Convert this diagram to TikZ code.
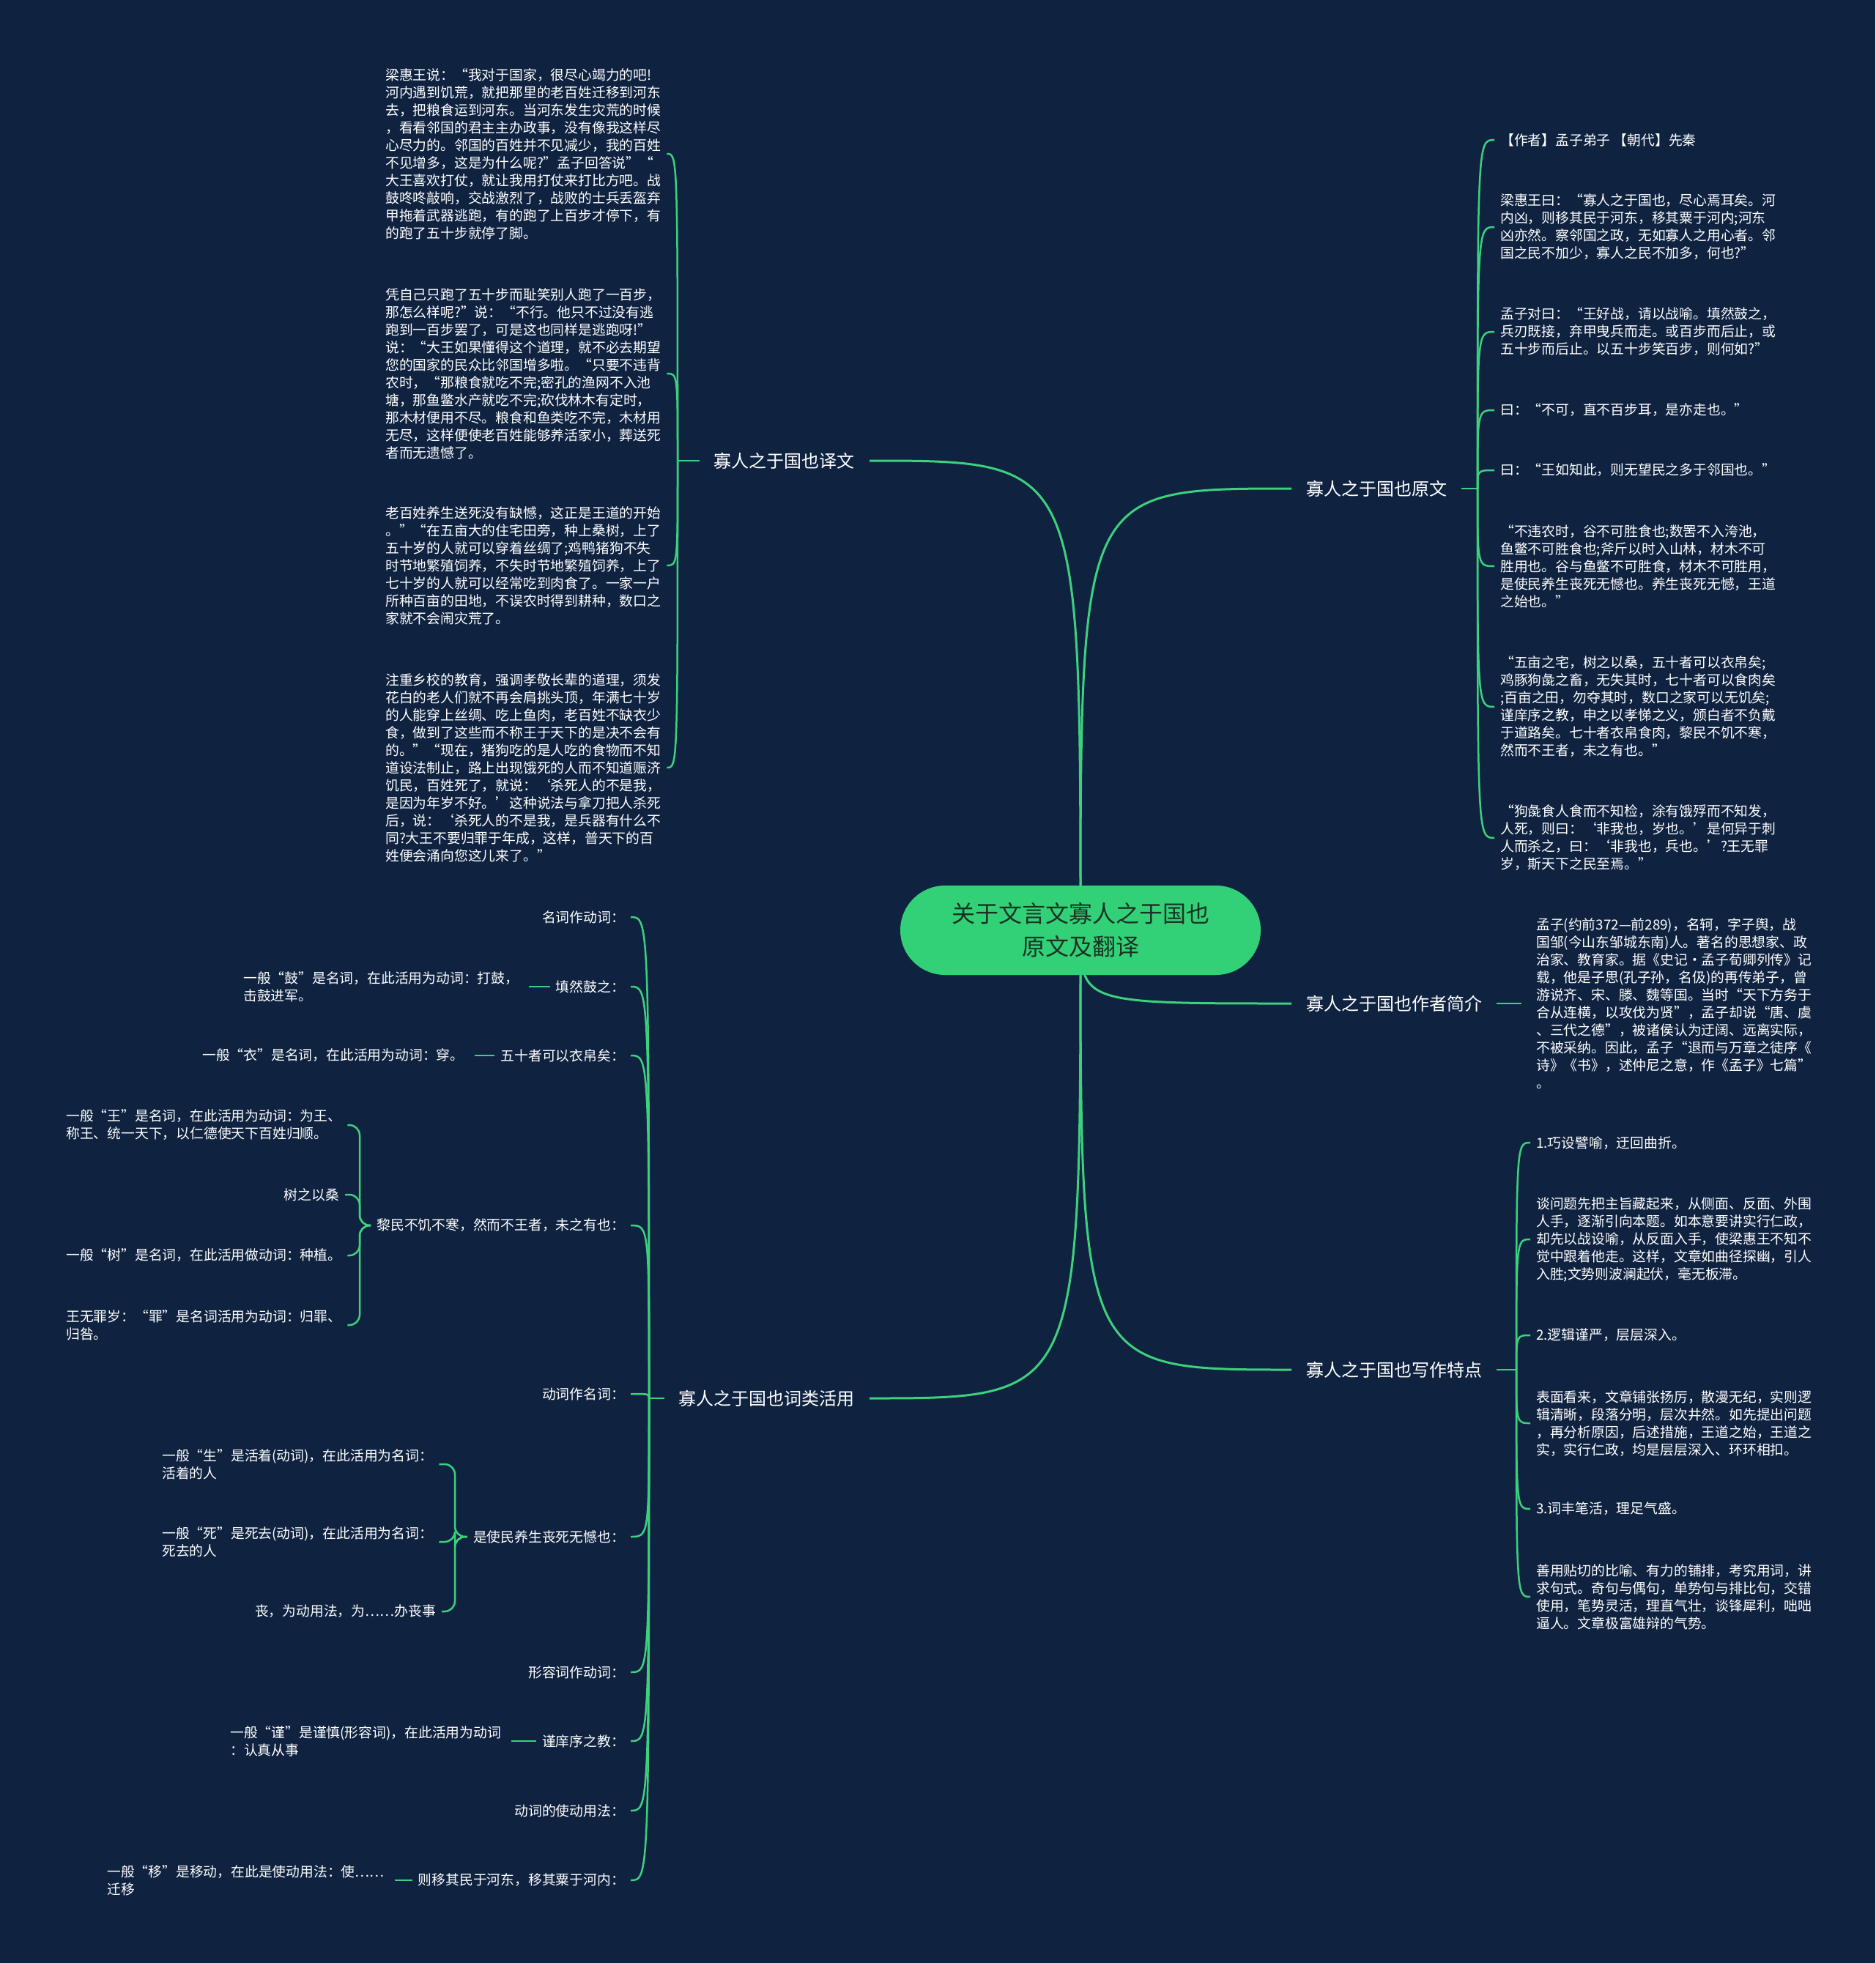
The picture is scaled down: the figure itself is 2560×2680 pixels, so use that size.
\documentclass[tikz,border=0pt]{standalone}
\usepackage{fontspec}
\setmainfont{Noto Sans CJK SC}
\definecolor{bg}{HTML}{0F2341}
\definecolor{lc}{HTML}{3DD17D}
\definecolor{nodefill}{HTML}{33D177}
\definecolor{nodetext}{HTML}{1B3223}
\begin{document}
\begin{tikzpicture}[x=1pt,y=-1pt,
  txt/.style={text=white,font=\fontsize{18.8}{24}\selectfont,align=left,inner xsep=8pt,inner ysep=2pt},
  lbl/.style={text=white,font=\fontsize{24}{30}\selectfont,inner xsep=20pt,inner ysep=4pt},
  trunk/.style={draw=lc,line width=3pt},
  twig/.style={draw=lc,line width=2.5pt},
  dashline/.style={draw=lc,line width=2.5pt,shorten >=6pt},
  brace/.style={draw=lc,line width=2.5pt,rounded corners=14pt}
]
\fill[bg] (0,0) rectangle (2560,2680);
\useasboundingbox (0,0) rectangle (2560,2680);

\coordinate (c) at (1475,1270);

% ---------- main labels ----------
\node[lbl,anchor=east] (yw) at (1187,629) {寡人之于国也译文};
\node[lbl,anchor=west] (yuan) at (1763,667) {寡人之于国也原文};
\node[lbl,anchor=west] (zz) at (1763,1370) {寡人之于国也作者简介};
\node[lbl,anchor=west] (xz) at (1763,1870) {寡人之于国也写作特点};
\node[lbl,anchor=east] (cl) at (1187,1909) {寡人之于国也词类活用};

\draw[trunk] (c) .. controls (1475,629) .. (yw.east);
\draw[trunk] (c) .. controls (1475,667) .. (yuan.west);
\draw[trunk] (c) .. controls (1475,1370) .. (zz.west);
\draw[trunk] (c) .. controls (1475,1870) .. (xz.west);
\draw[trunk] (c) .. controls (1475,1909) .. (cl.east);

% ---------- 译文 ----------
\node[txt,anchor=west] (p1) at (518,210) {梁惠王说：“我对于国家，很尽心竭力的吧!\\河内遇到饥荒，就把那里的老百姓迁移到河东\\去，把粮食运到河东。当河东发生灾荒的时候\\，看看邻国的君主主办政事，没有像我这样尽\\心尽力的。邻国的百姓并不见减少，我的百姓\\不见增多，这是为什么呢?”孟子回答说”“\\大王喜欢打仗，就让我用打仗来打比方吧。战\\鼓咚咚敲响，交战激烈了，战败的士兵丢盔弃\\甲拖着武器逃跑，有的跑了上百步才停下，有\\的跑了五十步就停了脚。};
\node[txt,anchor=west] (p2) at (518,510) {凭自己只跑了五十步而耻笑别人跑了一百步，\\那怎么样呢?”说：“不行。他只不过没有逃\\跑到一百步罢了，可是这也同样是逃跑呀!”\\说：“大王如果懂得这个道理，就不必去期望\\您的国家的民众比邻国增多啦。“只要不违背\\农时，“那粮食就吃不完;密孔的渔网不入池\\塘，那鱼鳖水产就吃不完;砍伐林木有定时，\\那木材便用不尽。粮食和鱼类吃不完，木材用\\无尽，这样便使老百姓能够养活家小，葬送死\\者而无遗憾了。};
\node[txt,anchor=west] (p3) at (518,772) {老百姓养生送死没有缺憾，这正是王道的开始\\。”“在五亩大的住宅田旁，种上桑树，上了\\五十岁的人就可以穿着丝绸了;鸡鸭猪狗不失\\时节地繁殖饲养，不失时节地繁殖饲养，上了\\七十岁的人就可以经常吃到肉食了。一家一户\\所种百亩的田地，不误农时得到耕种，数口之\\家就不会闹灾荒了。};
\node[txt,anchor=west] (p4) at (518,1048) {注重乡校的教育，强调孝敬长辈的道理，须发\\花白的老人们就不再会肩挑头顶，年满七十岁\\的人能穿上丝绸、吃上鱼肉，老百姓不缺衣少\\食，做到了这些而不称王于天下的是决不会有\\的。”“现在，猪狗吃的是人吃的食物而不知\\道设法制止，路上出现饿死的人而不知道赈济\\饥民，百姓死了，就说：‘杀死人的不是我，\\是因为年岁不好。’这种说法与拿刀把人杀死\\后，说：‘杀死人的不是我，是兵器有什么不\\同?大王不要归罪于年成，这样，普天下的百\\姓便会涌向您这儿来了。”};
\coordinate (ywb) at (925,629);
\draw[twig] (yw.west) -- (ywb);
\foreach \n/\y in {p1/210,p2/510,p3/772,p4/1048}
  \draw[twig] (ywb) .. controls (925,\y) .. (\n.east);

% ---------- 原文 ----------
\node[txt,anchor=west] (r1) at (2040,191) {【作者】孟子弟子 【朝代】先秦};
\node[txt,anchor=west] (r2) at (2040,310) {梁惠王曰：“寡人之于国也，尽心焉耳矣。河\\内凶，则移其民于河东，移其粟于河内;河东\\凶亦然。察邻国之政，无如寡人之用心者。邻\\国之民不加少，寡人之民不加多，何也?”};
\node[txt,anchor=west] (r3) at (2040,453) {孟子对曰：“王好战，请以战喻。填然鼓之，\\兵刃既接，弃甲曳兵而走。或百步而后止，或\\五十步而后止。以五十步笑百步，则何如?”};
\node[txt,anchor=west] (r4) at (2040,560) {曰：“不可，直不百步耳，是亦走也。”};
\node[txt,anchor=west] (r5) at (2040,642) {曰：“王如知此，则无望民之多于邻国也。”};
\node[txt,anchor=west] (r6) at (2040,773) {“不违农时，谷不可胜食也;数罟不入洿池，\\鱼鳖不可胜食也;斧斤以时入山林，材木不可\\胜用也。谷与鱼鳖不可胜食，材木不可胜用，\\是使民养生丧死无憾也。养生丧死无憾，王道\\之始也。”};
\node[txt,anchor=west] (r7) at (2040,965) {“五亩之宅，树之以桑，五十者可以衣帛矣;\\鸡豚狗彘之畜，无失其时，七十者可以食肉矣\\;百亩之田，勿夺其时，数口之家可以无饥矣;\\谨庠序之教，申之以孝悌之义，颁白者不负戴\\于道路矣。七十者衣帛食肉，黎民不饥不寒，\\然而不王者，未之有也。”};
\node[txt,anchor=west] (r8) at (2040,1144) {“狗彘食人食而不知检，涂有饿殍而不知发，\\人死，则曰：‘非我也，岁也。’是何异于刺\\人而杀之，曰：‘非我也，兵也。’?王无罪\\岁，斯天下之民至焉。”};
\coordinate (yuanb) at (2017,667);
\draw[twig] (yuan.east) -- (yuanb);
\foreach \n/\y in {r1/191,r2/310,r3/453,r4/560,r5/642,r6/773,r7/965,r8/1144}
  \draw[twig] (yuanb) .. controls (2017,\y) .. (\n.west);

% ---------- 作者简介 ----------
\node[txt,anchor=west] (au) at (2089,1370) {孟子(约前372—前289)，名轲，字子舆，战\\国邹(今山东邹城东南)人。著名的思想家、政\\治家、教育家。据《史记·孟子荀卿列传》记\\载，他是子思(孔子孙，名伋)的再传弟子，曾\\游说齐、宋、滕、魏等国。当时“天下方务于\\合从连横，以攻伐为贤”，孟子却说“唐、虞\\、三代之德”，被诸侯认为迂阔、远离实际，\\不被采纳。因此，孟子“退而与万章之徒序《\\诗》《书》，述仲尼之意，作《孟子》七篇”\\。};
\draw[dashline,shorten >=12pt] (zz.east) -- (au.west);

% ---------- 写作特点 ----------
\node[txt,anchor=west] (w1) at (2089,1560) {1.巧设譬喻，迂回曲折。};
\node[txt,anchor=west] (w2) at (2089,1692) {谈问题先把主旨藏起来，从侧面、反面、外围\\人手，逐渐引向本题。如本意要讲实行仁政，\\却先以战设喻，从反面入手，使梁惠王不知不\\觉中跟着他走。这样，文章如曲径探幽，引人\\入胜;文势则波澜起伏，毫无板滞。};
\node[txt,anchor=west] (w3) at (2089,1823) {2.逻辑谨严，层层深入。};
\node[txt,anchor=west] (w4) at (2089,1943) {表面看来，文章铺张扬厉，散漫无纪，实则逻\\辑清晰，段落分明，层次井然。如先提出问题\\，再分析原因，后述措施，王道之始，王道之\\实，实行仁政，均是层层深入、环环相扣。};
\node[txt,anchor=west] (w5) at (2089,2060) {3.词丰笔活，理足气盛。};
\node[txt,anchor=west] (w6) at (2089,2180) {善用贴切的比喻、有力的铺排，考究用词，讲\\求句式。奇句与偶句，单势句与排比句，交错\\使用，笔势灵活，理直气壮，谈锋犀利，咄咄\\逼人。文章极富雄辩的气势。};
\coordinate (xzb) at (2070,1870);
\draw[twig] (xz.east) -- (xzb);
\foreach \n/\y in {w1/1560,w2/1692,w3/1823,w4/1943,w5/2060,w6/2180}
  \draw[twig] (xzb) .. controls (2070,\y) .. (\n.west);

% ---------- 词类活用 ----------
\node[txt,anchor=east] (c1) at (861,1252) {名词作动词：};
\node[txt,anchor=east] (c2) at (861,1347) {填然鼓之：};
\node[txt,anchor=east] (c3) at (861,1441) {五十者可以衣帛矣：};
\node[txt,anchor=east] (c4) at (861,1673) {黎民不饥不寒，然而不王者，未之有也：};
\node[txt,anchor=east] (c5) at (861,1903) {动词作名词：};
\node[txt,anchor=east] (c6) at (861,2098) {是使民养生丧死无憾也：};
\node[txt,anchor=east] (c7) at (861,2283) {形容词作动词：};
\node[txt,anchor=east] (c8) at (861,2377) {谨庠序之教：};
\node[txt,anchor=east] (c9) at (861,2472) {动词的使动用法：};
\node[txt,anchor=east] (c10) at (861,2567) {则移其民于河东，移其粟于河内：};
\coordinate (clb) at (886,1909);
\draw[twig] (cl.west) -- (clb);
\foreach \n/\y in {c1/1252,c2/1347,c3/1441,c4/1673,c5/1903,c6/2098,c7/2283,c8/2377,c9/2472,c10/2567}
  \draw[twig] (clb) .. controls (886,\y) .. (\n.east);

% single explanations
\node[txt,anchor=west] (gu) at (324,1347) {一般“鼓”是名词，在此活用为动词：打鼓，\\击鼓进军。};
\node[txt,anchor=west] (yi) at (268,1441) {一般“衣”是名词，在此活用为动词：穿。};
\node[txt,anchor=west] (jin) at (306,2377) {一般“谨”是谨慎(形容词)，在此活用为动词\\：认真从事};
\node[txt,anchor=west] (yi2) at (138,2567) {一般“移”是移动，在此是使动用法：使……\\迁移};
\draw[dashline] (c2.west) -- (gu.east);
\draw[dashline] (c3.west) -- (yi.east);
\draw[dashline] (c8.west) -- (jin.east);
\draw[dashline] (c10.west) -- (yi2.east);

% 黎民 group
\node[txt,anchor=west] (wang) at (82,1536) {一般“王”是名词，在此活用为动词：为王、\\称王、统一天下，以仁德使天下百姓归顺。};
\node[txt,anchor=east] (sang) at (471,1631) {树之以桑};
\node[txt,anchor=west] (shu) at (82,1714) {一般“树”是名词，在此活用做动词：种植。};
\node[txt,anchor=west] (zui) at (82,1809) {王无罪岁：“罪”是名词活用为动词：归罪、\\归咎。};
\coordinate (c4b) at (491,1673);
\foreach \n in {wang,sang,shu,zui}
  \draw[brace] (c4.west) -- (c4b) |- (\n.east);

% 是使民 group
\node[txt,anchor=west] (sheng) at (213,1999) {一般“生”是活着(动词)，在此活用为名词：\\活着的人};
\node[txt,anchor=west] (si) at (213,2105) {一般“死”是死去(动词)，在此活用为名词：\\死去的人};
\node[txt,anchor=east] (sangshi) at (603,2200) {丧，为动用法，为……办丧事};
\coordinate (c6b) at (621,2098);
\foreach \n in {sheng,si,sangshi}
  \draw[brace] (c6.west) -- (c6b) |- (\n.east);

% ---------- root ----------
\node[draw=nodefill,fill=nodefill,line width=2pt,rounded corners=60pt,minimum width=490pt,minimum height=120pt,text=nodetext,font=\fontsize{32}{44.6}\selectfont,align=center] (root) at (c) {关于文言文寡人之于国也\\原文及翻译};
\end{tikzpicture}
\end{document}
